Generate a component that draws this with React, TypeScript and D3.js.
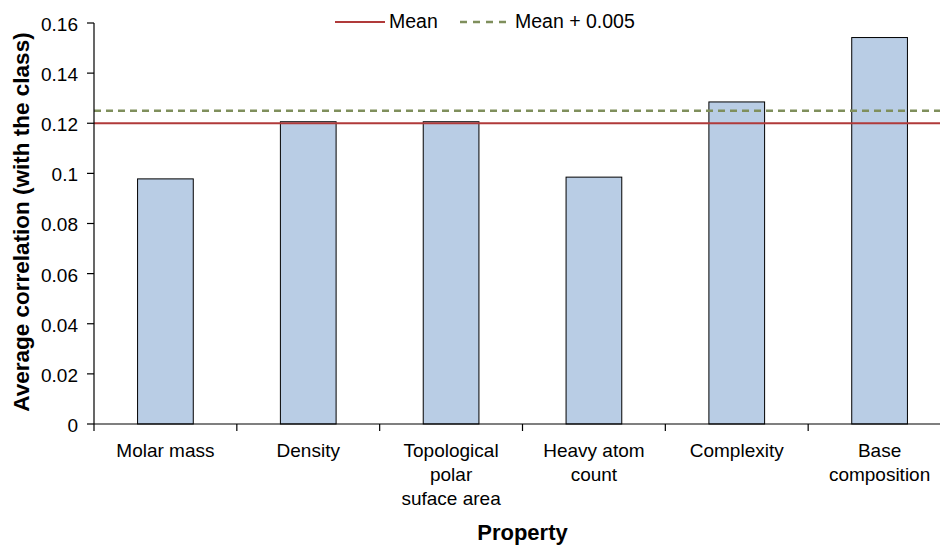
import React from "react";
import * as d3 from "d3";

const categories: string[][] = [
  ["Molar mass"],
  ["Density"],
  ["Topological", "polar", "suface area"],
  ["Heavy atom", "count"],
  ["Complexity"],
  ["Base", "composition"],
];
const values: number[] = [0.0978, 0.1206, 0.1206, 0.0985, 0.1285, 0.1542];
const yTicks: number[] = [0, 0.02, 0.04, 0.06, 0.08, 0.1, 0.12, 0.14, 0.16];
const meanValue = 0.12;
const meanPlus = 0.125;

const W = 940;
const H = 545;
const left = 94;
const right = 951;
const top = 23;
const bottom = 424;
const font = "Liberation Sans, Arial, sans-serif";

export default function App() {
  const x = d3
    .scaleBand<number>()
    .domain(values.map((_, i) => i))
    .range([left, right])
    .paddingInner(0.61)
    .paddingOuter(0.305);
  const y = d3.scaleLinear().domain([0, 0.16]).range([bottom, top]);
  const step = (right - left) / values.length;
  const fmt = (v: number) => (v === 0 ? "0" : String(+v.toFixed(2)));

  return (
    <svg
      width={W}
      height={H}
      style={{ position: "absolute", left: 0, top: 0, background: "#fff" }}
      fontFamily={font}
    >
      {/* bars */}
      {values.map((v, i) => (
        <rect
          key={i}
          x={x(i)}
          y={y(v)}
          width={x.bandwidth()}
          height={bottom - y(v)}
          fill="#B9CDE5"
          stroke="#000"
          strokeWidth={1}
        />
      ))}
      {/* mean lines */}
      <line x1={left} x2={W} y1={y(meanValue)} y2={y(meanValue)} stroke="#B03A3A" strokeWidth={2} />
      <line
        x1={left}
        x2={W}
        y1={y(meanPlus)}
        y2={y(meanPlus)}
        stroke="#7F8F5C"
        strokeWidth={2.5}
        strokeDasharray="7,5"
      />
      {/* y axis */}
      <line x1={left} x2={left} y1={top} y2={bottom} stroke="#000" strokeWidth={1.2} />
      {yTicks.map((t) => (
        <g key={t}>
          <line x1={left - 7} x2={left} y1={y(t)} y2={y(t)} stroke="#000" strokeWidth={1.2} />
          <text x={left - 16} y={y(t)} dy="0.42em" textAnchor="end" fontSize={19} fill="#000">
            {fmt(t)}
          </text>
        </g>
      ))}
      {/* x axis */}
      <line x1={left} x2={W} y1={bottom} y2={bottom} stroke="#000" strokeWidth={1.2} />
      {d3.range(values.length + 1).map((i) => (
        <line
          key={i}
          x1={left + i * step}
          x2={left + i * step}
          y1={bottom}
          y2={bottom + 7}
          stroke="#000"
          strokeWidth={1.2}
        />
      ))}
      {categories.map((lines, i) => (
        <text key={i} textAnchor="middle" fontSize={19} fill="#000">
          {lines.map((l, j) => (
            <tspan key={j} x={(x(i) as number) + x.bandwidth() / 2} y={457 + j * 24}>
              {l}
            </tspan>
          ))}
        </text>
      ))}
      {/* axis titles */}
      <text x={(left + right) / 2} y={540} textAnchor="middle" fontSize={22} fontWeight="bold" fill="#000">
        Property
      </text>
      <text
        transform={`translate(29,222) rotate(-90)`}
        textAnchor="middle"
        fontSize={22.5}
        fontWeight="bold"
        fill="#000"
      >
        Average correlation (with the class)
      </text>
      {/* legend */}
      <line x1={335} x2={385} y1={22} y2={22} stroke="#B03A3A" strokeWidth={2} />
      <text x={389} y={28} fontSize={19.5} fill="#000">
        Mean
      </text>
      <line x1={460} x2={512} y1={22} y2={22} stroke="#7F8F5C" strokeWidth={2.5} strokeDasharray="7,6" />
      <text x={515} y={28} fontSize={19.5} fill="#000">
        Mean + 0.005
      </text>
    </svg>
  );
}
